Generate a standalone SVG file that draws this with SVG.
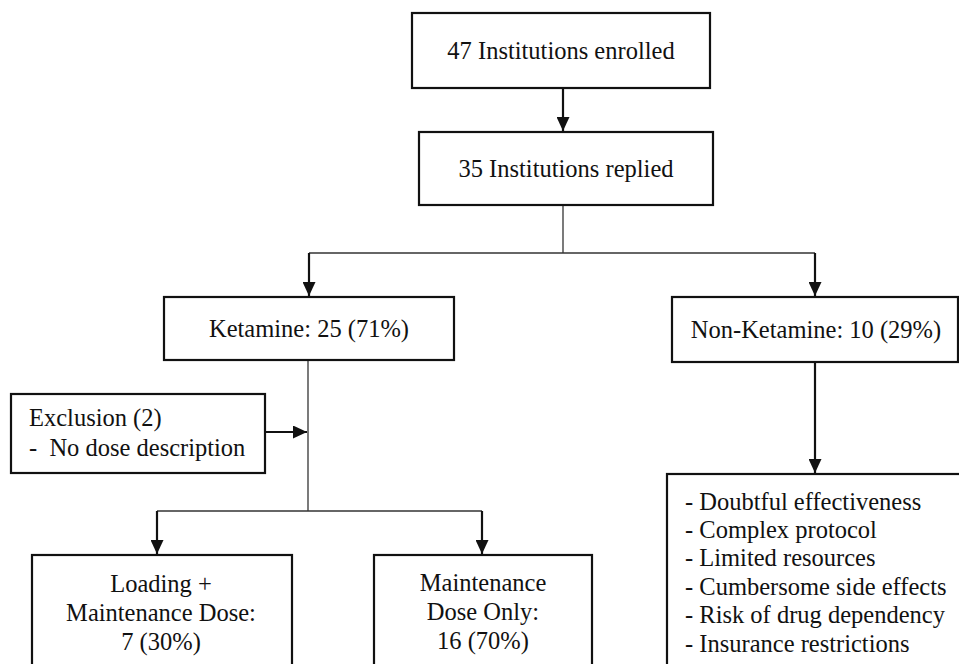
<svg xmlns="http://www.w3.org/2000/svg" width="959" height="664" viewBox="0 0 959 664">
  <style>
    .box { fill: #fff; stroke: #111; stroke-width: 2.2; }
    .t { font-family: 'Liberation Serif', 'Times New Roman', Times, 'DejaVu Serif', serif; font-size: 24.5px; fill: #111; }
    .c { text-anchor: middle; }
    .thin { fill: none; stroke: #333; stroke-width: 1.3; }
    .arr { fill: none; stroke: #111; stroke-width: 2.2; marker-end: url(#ah); }
  </style>
  <defs>
    <marker id="ah" markerUnits="userSpaceOnUse" markerWidth="14" markerHeight="13" refX="14" refY="6.5" orient="auto">
      <path d="M0,0 L14,6.5 L0,13 z" fill="#111"/>
    </marker>
  </defs>
  <rect width="959" height="664" fill="#fff"/>

  <g id="connectors">
    <line class="arr" x1="563" y1="88" x2="563" y2="131"/>
    <polyline class="thin" points="563,205 563,253"/>
    <polyline class="thin" points="309,253 815,253"/>
    <line class="arr" x1="309" y1="253" x2="309" y2="296"/>
    <line class="arr" x1="815" y1="253" x2="815" y2="296"/>
    <polyline class="thin" points="308,360 308,511"/>
    <line class="arr" x1="265" y1="432" x2="307" y2="432"/>
    <polyline class="thin" points="157,511 482,511"/>
    <line class="arr" x1="157" y1="511" x2="157" y2="554"/>
    <line class="arr" x1="482" y1="511" x2="482" y2="554"/>
    <line class="arr" x1="815" y1="362" x2="815" y2="473"/>
  </g>

  <g id="n_enrolled">
    <rect class="box" x="412" y="13" width="298" height="75"/>
    <text class="t c" font-family="Liberation Serif, serif" x="561" y="58.5">47 Institutions enrolled</text>
  </g>
  <g id="n_replied">
    <rect class="box" x="419" y="132" width="294" height="73"/>
    <text class="t c" x="566" y="177">35 Institutions replied</text>
  </g>
  <g id="n_ketamine">
    <rect class="box" x="164" y="297" width="290" height="63"/>
    <text class="t c" x="309" y="337">Ketamine: 25 (71%)</text>
  </g>
  <g id="n_nonketamine">
    <rect class="box" x="672" y="297" width="286" height="65"/>
    <text class="t c" x="816" y="338">Non-Ketamine: 10 (29%)</text>
  </g>
  <g id="n_exclusion">
    <rect class="box" x="11" y="394" width="254" height="79"/>
    <text class="t" x="29" y="426">Exclusion (2)</text>
    <text class="t" x="29" y="456" xml:space="preserve">-  No dose description</text>
  </g>
  <g id="n_loading">
    <rect class="box" x="32" y="555" width="260" height="130"/>
    <text class="t c" x="161" y="592">Loading +</text>
    <text class="t c" x="161" y="621">Maintenance Dose:</text>
    <text class="t c" x="161" y="650">7 (30%)</text>
  </g>
  <g id="n_maintenance">
    <rect class="box" x="374" y="555" width="218" height="130"/>
    <text class="t c" x="483" y="591">Maintenance</text>
    <text class="t c" x="483" y="620">Dose Only:</text>
    <text class="t c" x="483" y="649">16 (70%)</text>
  </g>
  <g id="n_reasons">
    <rect class="box" x="667" y="474" width="310" height="210"/>
    <text class="t" x="685" y="510">- Doubtful effectiveness</text>
    <text class="t" x="685" y="538">- Complex protocol</text>
    <text class="t" x="685" y="566">- Limited resources</text>
    <text class="t" x="685" y="595">- Cumbersome side effects</text>
    <text class="t" x="685" y="623">- Risk of drug dependency</text>
    <text class="t" x="685" y="652">- Insurance restrictions</text>
  </g>
</svg>
